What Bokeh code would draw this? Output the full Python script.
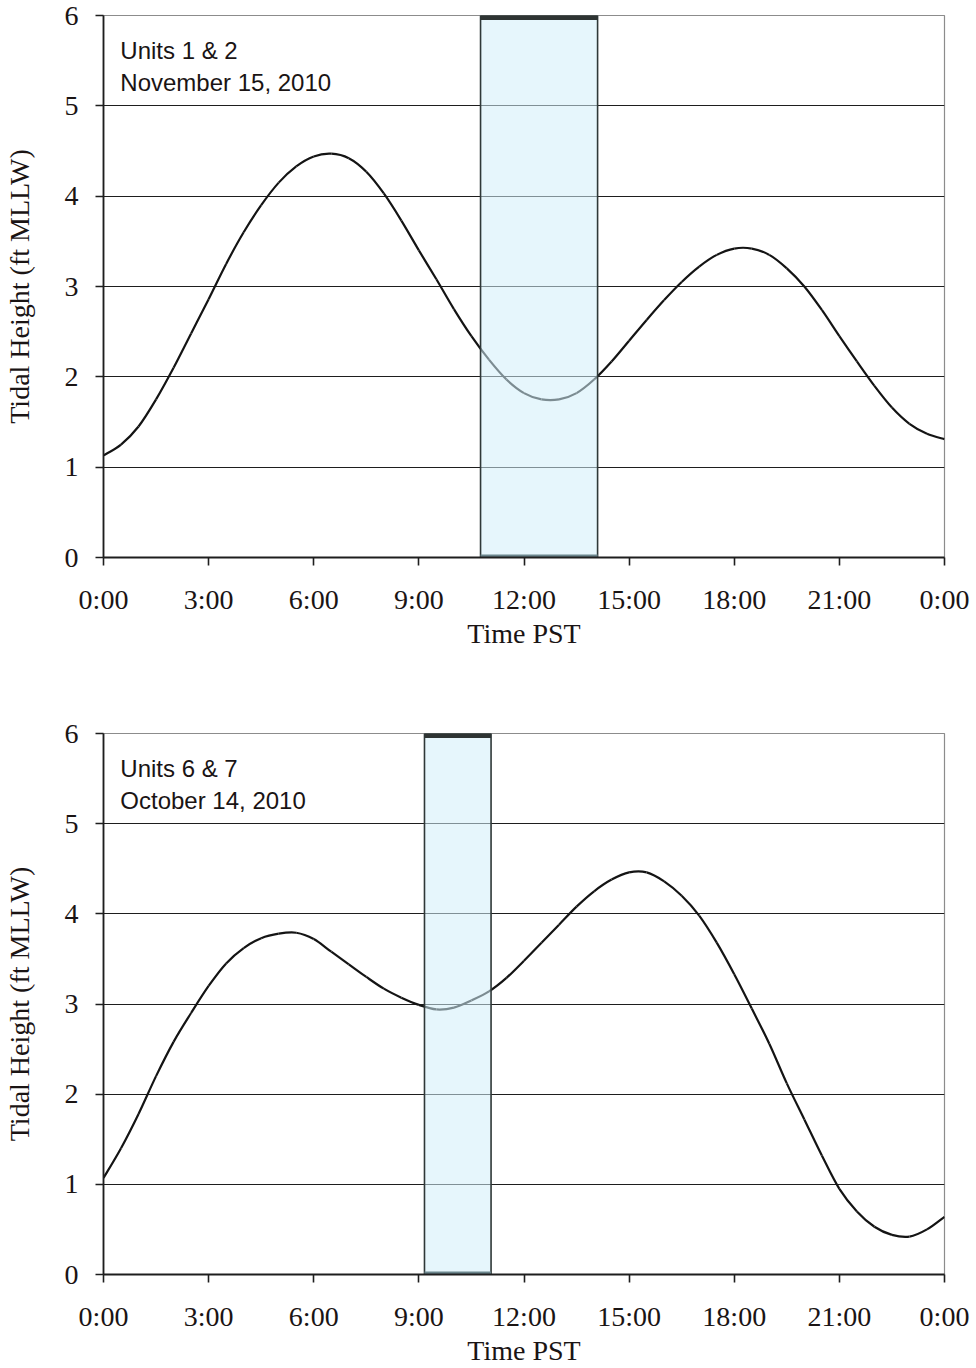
from bokeh.plotting import figure
from bokeh.layouts import column
from bokeh.models import FixedTicker, Label, Range1d
from bokeh.embed import file_html
from bokeh.resources import INLINE

# ---------------- data ----------------
hours = [0.0, 0.5, 1.0, 1.5, 2.0, 2.5, 3.0, 3.5, 4.0, 4.5, 5.0, 5.5, 6.0, 6.5,
         7.0, 7.5, 8.0, 8.5, 9.0, 9.5, 10.0, 10.5, 11.0, 11.5, 12.0, 12.5,
         13.0, 13.5, 14.0, 14.5, 15.0, 15.5, 16.0, 16.5, 17.0, 17.5, 18.0,
         18.5, 19.0, 19.5, 20.0, 20.5, 21.0, 21.5, 22.0, 22.5, 23.0, 23.5, 24.0]

tide_units_1_2 = [1.13, 1.25, 1.45, 1.75, 2.10, 2.48, 2.86, 3.25, 3.60, 3.90,
                  4.15, 4.33, 4.44, 4.47, 4.42, 4.27, 4.03, 3.73, 3.40, 3.08,
                  2.75, 2.45, 2.19, 1.97, 1.82, 1.75, 1.75, 1.82, 1.97, 2.17,
                  2.40, 2.63, 2.85, 3.05, 3.22, 3.35, 3.42, 3.42, 3.35, 3.20,
                  3.00, 2.74, 2.45, 2.17, 1.90, 1.66, 1.48, 1.37, 1.31]

tide_units_6_7 = [1.07, 1.40, 1.78, 2.20, 2.58, 2.90, 3.20, 3.45, 3.62, 3.73,
                  3.78, 3.79, 3.72, 3.58, 3.44, 3.30, 3.17, 3.07, 2.99, 2.94,
                  2.96, 3.04, 3.14, 3.29, 3.48, 3.68, 3.88, 4.08, 4.25, 4.38,
                  4.46, 4.46, 4.36, 4.20, 3.98, 3.68, 3.33, 2.95, 2.56, 2.12,
                  1.72, 1.32, 0.95, 0.70, 0.53, 0.44, 0.42, 0.50, 0.64]

# survey windows (hours)
window_units_1_2 = [10.76, 14.10]
window_units_6_7 = [9.16, 11.06]

tick_hours = [0, 3, 6, 9, 12, 15, 18, 21, 24]
tick_labels = ["0:00", "3:00", "6:00", "9:00", "12:00", "15:00", "18:00", "21:00", "0:00"]
y_ticks = [0, 1, 2, 3, 4, 5, 6]

titles_top = ["Units 1 & 2", "November 15, 2010"]
titles_bottom = ["Units 6 & 7", "October 14, 2010"]

SERIF = "Liberation Serif"
SANS = "Liberation Sans"
TXT = "#1a1414"


def smooth_segments(xs, ys):
    """Cubic Bezier control points (Catmull-Rom style, like a smoothed line)
    passing through every data point."""
    n = len(xs)
    x0, y0, x1, y1, cx0, cy0, cx1, cy1 = [], [], [], [], [], [], [], []
    for i in range(n - 1):
        ip = max(i - 1, 0)
        inn = min(i + 2, n - 1)
        x0.append(xs[i]); y0.append(ys[i])
        x1.append(xs[i + 1]); y1.append(ys[i + 1])
        cx0.append(xs[i] + (xs[i + 1] - xs[ip]) / 6.0)
        cy0.append(ys[i] + (ys[i + 1] - ys[ip]) / 6.0)
        cx1.append(xs[i + 1] - (xs[inn] - xs[i]) / 6.0)
        cy1.append(ys[i + 1] - (ys[inn] - ys[i]) / 6.0)
    return dict(x0=x0, y0=y0, x1=x1, y1=y1, cx0=cx0, cy0=cy0, cx1=cx1, cy1=cy1)


def make_chart(heights, window, title_lines, height, b_left, b_right, b_top,
               b_bottom, ylabel_standoff):
    p = figure(width=976, height=height,
               x_range=Range1d(0, 24), y_range=Range1d(0, 6),
               output_backend="svg", toolbar_location=None,
               min_border_left=b_left, min_border_right=b_right,
               min_border_top=b_top, min_border_bottom=b_bottom)
    p.background_fill_color = "white"
    p.border_fill_color = "white"
    p.outline_line_color = "#8c8c8c"
    p.outline_line_width = 1.2

    # grid
    p.xgrid.visible = False
    p.ygrid.ticker = FixedTicker(ticks=y_ticks[1:])
    p.ygrid.grid_line_color = "#1e1e1e"
    p.ygrid.grid_line_width = 1.1

    # x axis
    p.xaxis.ticker = FixedTicker(ticks=tick_hours)
    p.xaxis.major_label_overrides = {h: l for h, l in zip(tick_hours, tick_labels)}
    p.xaxis.axis_label = "Time PST"
    p.xaxis.major_tick_out = 8
    p.xaxis.major_tick_in = 0
    p.xaxis.minor_tick_line_color = None
    p.xaxis.major_label_standoff = 18
    p.xaxis.axis_label_standoff = 0

    # y axis
    p.yaxis.ticker = FixedTicker(ticks=y_ticks)
    p.yaxis.axis_label = "Tidal Height (ft MLLW)"
    p.yaxis.major_tick_out = 8
    p.yaxis.major_tick_in = 0
    p.yaxis.minor_tick_line_color = None
    p.yaxis.major_label_standoff = 17
    p.yaxis.axis_label_standoff = ylabel_standoff

    for ax in (p.xaxis, p.yaxis):
        ax.axis_line_color = "#1e1e1e"
        ax.axis_line_width = 1.8
        ax.major_tick_line_color = "#1e1e1e"
        ax.major_tick_line_width = 1.6
        ax.major_label_text_font = SERIF
        ax.major_label_text_font_size = "28px"
        ax.major_label_text_color = TXT
        ax.axis_label_text_font = SERIF
        ax.axis_label_text_font_size = "28px"
        ax.axis_label_text_font_style = "normal"
        ax.axis_label_text_color = TXT

    # tide curve (smoothed through every point)
    seg = smooth_segments(hours, heights)
    p.bezier(x0=seg["x0"], y0=seg["y0"], x1=seg["x1"], y1=seg["y1"],
             cx0=seg["cx0"], cy0=seg["cy0"], cx1=seg["cx1"], cy1=seg["cy1"],
             line_color="#141414", line_width=2.2)

    # translucent survey window on top
    p.quad(left=[window[0]], right=[window[1]], bottom=[0], top=[6],
           fill_color="#d2eff9", fill_alpha=0.55,
           line_color="#2f3838", line_width=1.6)
    p.segment(x0=[window[0]], x1=[window[1]], y0=[6], y1=[6],
              line_color="#2e3433", line_width=9)
    p.segment(x0=[window[0]], x1=[window[1]], y0=[0], y1=[0],
              line_color="#6a858c", line_width=6)

    # annotation text
    p.add_layout(Label(x=0.48, y=5.61, text=title_lines[0],
                       text_font=SANS, text_font_size="24px",
                       text_color=TXT, text_baseline="alphabetic"))
    p.add_layout(Label(x=0.48, y=5.26, text=title_lines[1],
                       text_font=SANS, text_font_size="24px",
                       text_color=TXT, text_baseline="alphabetic"))
    return p


top = make_chart(tide_units_1_2, window_units_1_2, titles_top,
                 height=718, b_left=103, b_right=29, b_top=15, b_bottom=161,
                 ylabel_standoff=27)
bottom = make_chart(tide_units_6_7, window_units_6_7, titles_bottom,
                    height=650, b_left=100, b_right=32, b_top=15, b_bottom=93,
                    ylabel_standoff=27)

layout = column(top, bottom, spacing=0)

open("out.html", "w").write(file_html(layout, INLINE))
